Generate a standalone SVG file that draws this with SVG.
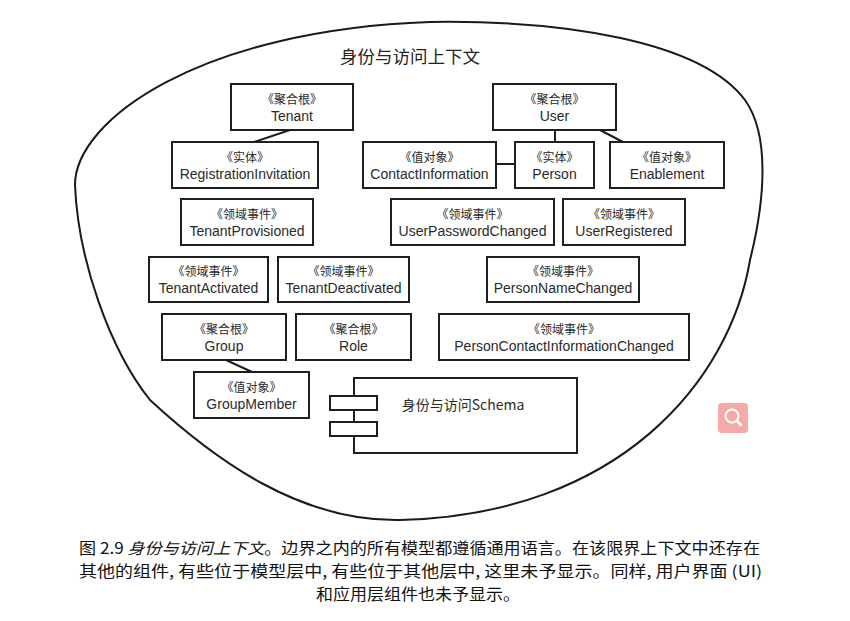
<svg xmlns="http://www.w3.org/2000/svg" width="850" height="621" viewBox="0 0 850 621">
<style>
  .box rect { fill: #fff; stroke: #1e1e1e; stroke-width: 2; }
  .st { font-family: "Noto Sans CJK SC", "Liberation Sans", sans-serif; font-size: 12px; fill: #2a2a2a; text-anchor: middle; }
  .nm { font-family: "Liberation Sans", "Noto Sans CJK SC", sans-serif; font-size: 14px; fill: #2a2a2a; text-anchor: middle; }
  .conn line { stroke: #1e1e1e; stroke-width: 2; }
  .cap { font-family: "Noto Sans CJK SC", "Liberation Serif", serif; font-size: 15.5px; fill: #111; }
</style>
<rect width="850" height="621" fill="#fff"/>
<g id="boundary">
  <path d="M 75 185 C 75 120, 200 30, 430 22 C 560 20, 700 40, 745 100 C 770 135, 765 200, 750 260 C 730 380, 620 515, 400 520 C 300 522, 215 460, 150 400 C 110 350, 78 260, 75 185 Z" fill="none" stroke="#1a1a1a" stroke-width="2"/>
  <text x="410" y="63" font-family="Noto Sans CJK SC, sans-serif" font-size="17.5" fill="#222" text-anchor="middle">身份与访问上下文</text>
</g>
<g id="connectors" class="conn">
  <line x1="290" y1="130" x2="254" y2="142"/>
  <line x1="555" y1="130" x2="555" y2="142"/>
  <line x1="600" y1="130" x2="623" y2="142"/>
  <line x1="496" y1="164" x2="515" y2="164"/>
  <line x1="226" y1="360" x2="252" y2="372"/>
</g>
<g id="tenant" class="box"><rect x="231" y="84" width="122" height="46"/><text class="st" x="292" y="104">《聚合根》</text><text class="nm" x="292" y="121">Tenant</text></g>
<g id="user" class="box"><rect x="493" y="84" width="123" height="46"/><text class="st" x="554.5" y="104">《聚合根》</text><text class="nm" x="554.5" y="121">User</text></g>
<g id="registrationInvitation" class="box"><rect x="172" y="142" width="146" height="46"/><text class="st" x="245" y="162">《实体》</text><text class="nm" x="245" y="179">RegistrationInvitation</text></g>
<g id="contactInformation" class="box"><rect x="363" y="142" width="133" height="46"/><text class="st" x="429.5" y="162">《值对象》</text><text class="nm" x="429.5" y="179">ContactInformation</text></g>
<g id="person" class="box"><rect x="515" y="142" width="79" height="46"/><text class="st" x="554.5" y="162">《实体》</text><text class="nm" x="554.5" y="179">Person</text></g>
<g id="enablement" class="box"><rect x="610" y="142" width="114" height="46"/><text class="st" x="667" y="162">《值对象》</text><text class="nm" x="667" y="179">Enablement</text></g>
<g id="tenantProvisioned" class="box"><rect x="181" y="199" width="132" height="46"/><text class="st" x="247" y="219">《领域事件》</text><text class="nm" x="247" y="236">TenantProvisioned</text></g>
<g id="userPasswordChanged" class="box"><rect x="391" y="199" width="163" height="46"/><text class="st" x="472.5" y="219">《领域事件》</text><text class="nm" x="472.5" y="236">UserPasswordChanged</text></g>
<g id="userRegistered" class="box"><rect x="563" y="199" width="122" height="46"/><text class="st" x="624" y="219">《领域事件》</text><text class="nm" x="624" y="236">UserRegistered</text></g>
<g id="tenantActivated" class="box"><rect x="149" y="257" width="119" height="45"/><text class="st" x="208.5" y="276">《领域事件》</text><text class="nm" x="208.5" y="293">TenantActivated</text></g>
<g id="tenantDeactivated" class="box"><rect x="278" y="257" width="131" height="45"/><text class="st" x="343.5" y="276">《领域事件》</text><text class="nm" x="343.5" y="293">TenantDeactivated</text></g>
<g id="personNameChanged" class="box"><rect x="487" y="257" width="152" height="45"/><text class="st" x="563" y="276">《领域事件》</text><text class="nm" x="563" y="293">PersonNameChanged</text></g>
<g id="group" class="box"><rect x="162" y="314" width="124" height="46"/><text class="st" x="224" y="334">《聚合根》</text><text class="nm" x="224" y="351">Group</text></g>
<g id="role" class="box"><rect x="296" y="314" width="115" height="46"/><text class="st" x="353.5" y="334">《聚合根》</text><text class="nm" x="353.5" y="351">Role</text></g>
<g id="personContactInformationChanged" class="box"><rect x="439" y="314" width="250" height="46"/><text class="st" x="564" y="334">《领域事件》</text><text class="nm" x="564" y="351">PersonContactInformationChanged</text></g>
<g id="groupMember" class="box"><rect x="194" y="372" width="115" height="46"/><text class="st" x="251.5" y="392">《值对象》</text><text class="nm" x="251.5" y="409">GroupMember</text></g>
<g id="schema" class="box">
  <rect x="354" y="378" width="223" height="75"/>
  <rect x="330" y="396" width="47" height="14"/>
  <rect x="330" y="422" width="47" height="14"/>
  <text x="463" y="410" font-family="Noto Sans CJK SC, Liberation Sans, sans-serif" font-size="14" fill="#2a2a2a" text-anchor="middle">身份与访问Schema</text>
</g>
<g id="magnifier">
  <rect x="718" y="403" width="30" height="30" rx="4" fill="#f5aaa8"/>
  <circle cx="732" cy="416" r="6.5" fill="none" stroke="#fff" stroke-width="2"/>
  <line x1="737" y1="421" x2="741" y2="425" stroke="#fff" stroke-width="2.5" stroke-linecap="round"/>
</g>
<g id="caption">
  <text class="cap" x="79" y="554" textLength="681" lengthAdjust="spacingAndGlyphs">图 2.9  <tspan font-style="italic">身份与访问上下文</tspan>。边界之内的所有模型都遵循通用语言。在该限界上下文中还存在</text>
  <text class="cap" x="79" y="577" textLength="683" lengthAdjust="spacingAndGlyphs">其他的组件, 有些位于模型层中, 有些位于其他层中, 这里未予显示。同样, 用户界面 (UI)</text>
  <text class="cap" x="316" y="600" textLength="204" lengthAdjust="spacingAndGlyphs">和应用层组件也未予显示。</text>
</g>
</svg>
